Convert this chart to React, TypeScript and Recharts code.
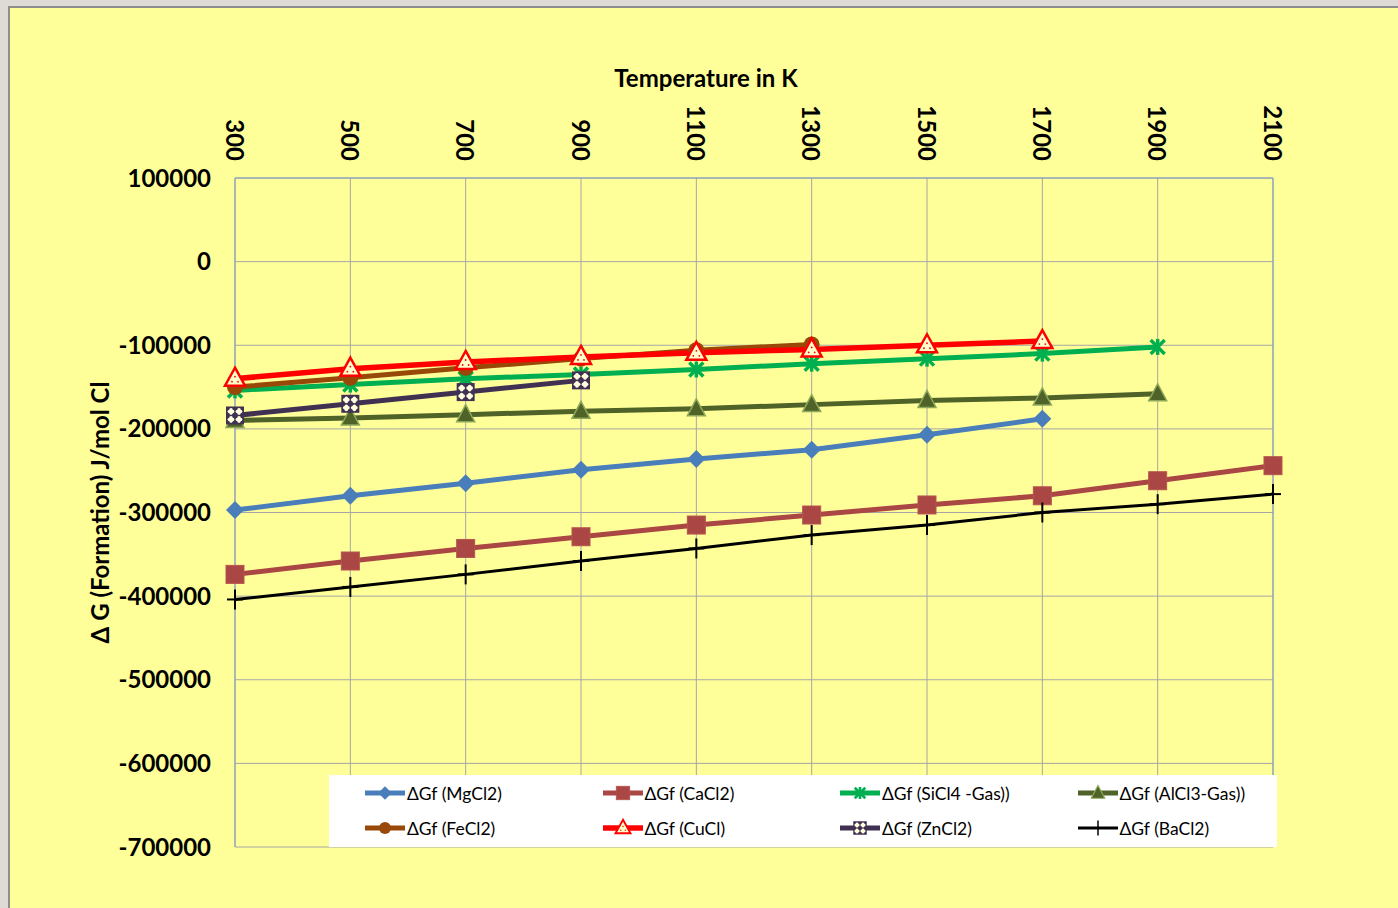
import React from "react";
import {
  LineChart,
  Line,
  XAxis,
  YAxis,
  CartesianGrid,
  Legend,
  ReferenceLine,
} from "recharts";

// temperatures (K) and ΔGf values (J/mol Cl)
const temps = [300, 500, 700, 900, 1100, 1300, 1500, 1700, 1900, 2100];
const mgcl2 = [-297000, -280000, -265000, -249000, -236000, -225000, -207000, -188000];
const cacl2 = [-374000, -358000, -343000, -329000, -315000, -303000, -291000, -280000, -262000, -244000];
const sicl4 = [-154000, -147000, -140000, -135000, -129000, -122000, -116000, -110000, -102000];
const alcl3 = [-190000, -187000, -183000, -179000, -176000, -171000, -166000, -163000, -158000];
const fecl2 = [-150000, -139000, -127000, -116000, -106000, -99000];
const cucl = [-140000, -128000, -120000, -114000, -109000, -105000, -100000, -95000];
const zncl2 = [-184000, -170000, -156000, -142000];
const bacl2 = [-404000, -389000, -374000, -358000, -343000, -327000, -315000, -300000, -290000, -278000];

const yTicks = [100000, 0, -100000, -200000, -300000, -400000, -500000, -600000, -700000];

type MarkerKind = "diamond" | "square" | "star" | "triangle" | "circle" | "redTri" | "zn" | "plus";

const series: { key: string; name: string; values: number[]; color: string; width: number; marker: MarkerKind }[] = [
  { key: "mg", name: "ΔGf (MgCl2)", values: mgcl2, color: "#4A7EBB", width: 5, marker: "diamond" },
  { key: "ca", name: "ΔGf (CaCl2)", values: cacl2, color: "#AA4643", width: 5, marker: "square" },
  { key: "si", name: "ΔGf (SiCl4 -Gas))", values: sicl4, color: "#00B050", width: 5, marker: "star" },
  { key: "al", name: "ΔGf (AlCl3-Gas))", values: alcl3, color: "#4F6228", width: 5, marker: "triangle" },
  { key: "fe", name: "ΔGf (FeCl2)", values: fecl2, color: "#984807", width: 5, marker: "circle" },
  { key: "cu", name: "ΔGf (CuCl)", values: cucl, color: "#FF0000", width: 5.5, marker: "redTri" },
  { key: "zn", name: "ΔGf (ZnCl2)", values: zncl2, color: "#403152", width: 5, marker: "zn" },
  { key: "ba", name: "ΔGf (BaCl2)", values: bacl2, color: "#000000", width: 3, marker: "plus" },
];

const data = temps.map((t, i) => {
  const row: Record<string, number | null> = { T: t };
  series.forEach((s) => {
    row[s.key] = s.values[i] ?? null;
  });
  return row;
});

const FONT = "Lato, 'Open Sans', sans-serif";

function Marker({ kind, cx, cy, color }: { kind: MarkerKind; cx: number; cy: number; color: string }) {
  switch (kind) {
    case "diamond":
      return <path d={`M${cx},${cy - 9} L${cx + 9},${cy} L${cx},${cy + 9} L${cx - 9},${cy} Z`} fill={color} />;
    case "square":
      return <rect x={cx - 9} y={cy - 9} width={18} height={18} fill={color} stroke="#B85450" strokeWidth={1} />;
    case "star":
      return (
        <g stroke={color} strokeWidth={3.5} strokeLinecap="butt">
          <line x1={cx - 7} y1={cy - 7} x2={cx + 7} y2={cy + 7} />
          <line x1={cx - 7} y1={cy + 7} x2={cx + 7} y2={cy - 7} />
          <line x1={cx} y1={cy - 8} x2={cx} y2={cy + 8} />
        </g>
      );
    case "triangle":
      return (
        <path
          d={`M${cx},${cy - 10} L${cx + 9},${cy + 7} L${cx - 9},${cy + 7} Z`}
          fill={color}
          stroke="#8EA85A"
          strokeWidth={1.5}
        />
      );
    case "circle":
      return <circle cx={cx} cy={cy} r={8} fill={color} />;
    case "redTri":
      return (
        <g>
          <path
            d={`M${cx},${cy - 11} L${cx + 10},${cy + 7} L${cx - 10},${cy + 7} Z`}
            fill="#FFFFCC"
            stroke="#FF0000"
            strokeWidth={2.5}
          />
          <circle cx={cx} cy={cy - 2} r={0.9} fill="#FF0000" />
          <circle cx={cx - 3} cy={cy + 3} r={0.9} fill="#FF0000" />
          <circle cx={cx + 3} cy={cy + 3} r={0.9} fill="#FF0000" />
        </g>
      );
    case "zn":
      return (
        <g>
          <rect x={cx - 9} y={cy - 9} width={18} height={18} fill="#403152" />
          {[-4, 4].map((dx) =>
            [-4, 4].map((dy) => (
              <g key={`${dx}${dy}`}>
                <circle cx={cx + dx - 1.6} cy={cy + dy} r={1.8} fill="#FFFFE0" />
                <circle cx={cx + dx + 1.6} cy={cy + dy} r={1.8} fill="#FFFFE0" />
                <circle cx={cx + dx} cy={cy + dy - 1.6} r={1.8} fill="#FFFFE0" />
                <circle cx={cx + dx} cy={cy + dy + 1.6} r={1.8} fill="#FFFFE0" />
              </g>
            ))
          )}
        </g>
      );
    case "plus":
      return (
        <g stroke={color} strokeWidth={2}>
          <line x1={cx} y1={cy - 10} x2={cx} y2={cy + 10} />
          <line x1={cx - 8} y1={cy} x2={cx + 8} y2={cy} />
        </g>
      );
  }
  return null;
}

const makeDot = (kind: MarkerKind, color: string) => (props: any) => {
  const { cx, cy, value, index } = props;
  if (cx == null || cy == null || value == null) return <g key={`d${index}`} />;
  return (
    <g key={`d${index}`}>
      <Marker kind={kind} cx={cx} cy={cy} color={color} />
    </g>
  );
};

const XTick = (props: any) => {
  const { x, payload } = props;
  return (
    <text
      transform={`translate(${x},161) rotate(90)`}
      textAnchor="end"
      dominantBaseline="central"
      fontFamily={FONT}
      fontWeight={700}
      fontSize={24}
      fill="#000"
    >
      {payload.value}
    </text>
  );
};

const LegendBox = () => (
  <div
    style={{
      width: 948,
      height: 72,
      background: "#FFFFFF",
      position: "relative",
      fontFamily: FONT,
      fontSize: 17.5,
      color: "#000",
    }}
  >
    {series.map((s, i) => {
      const col = i % 4;
      const row = Math.floor(i / 4);
      return (
        <div
          key={s.key}
          style={{
            position: "absolute",
            left: 35 + col * 237.5,
            top: 18 + row * 35 - 10,
            height: 20,
            display: "flex",
            alignItems: "center",
            whiteSpace: "nowrap",
          }}
        >
          <svg width={42} height={20}>
            <line x1={1} y1={10} x2={41} y2={10} stroke={s.color} strokeWidth={s.width} />
            <g transform="translate(21,10) scale(0.75) translate(-21,-10)">
              <Marker kind={s.marker} cx={21} cy={10} color={s.color} />
            </g>
          </svg>
          <span style={{ marginLeft: 1 }}>{s.name}</span>
        </div>
      );
    })}
  </div>
);

export default function App() {
  return (
    <div style={{ position: "absolute", left: 0, top: 0, width: 1398, height: 908, background: "#DEDBD6", overflow: "hidden" }}>
      <div
        style={{
          position: "absolute",
          left: 8,
          top: 6,
          width: 1400,
          height: 910,
          background: "#FFFF99",
          borderLeft: "2px solid #8E8E8E",
          borderTop: "2px solid #8E8E8E",
        }}
      />
      <div style={{ position: "absolute", left: 0, top: 0 }}>
        <LineChart width={1398} height={908} data={data} margin={{ top: 60, right: 125, bottom: 61, left: 90 }}>
          <CartesianGrid stroke="#A6A6A6" strokeWidth={1} />
          <XAxis
            dataKey="T"
            type="number"
            orientation="top"
            domain={[300, 2100]}
            ticks={temps}
            height={118}
            tick={<XTick />}
            tickLine={false}
            axisLine={{ stroke: "#7F9DC9", strokeWidth: 1 }}
            label={{
              content: () => (
                <text x={706} y={87} textAnchor="middle" fontFamily={FONT} fontWeight={700} fontSize={24} fill="#000">
                  Temperature in K
                </text>
              ),
            }}
          />
          <YAxis
            type="number"
            domain={[-700000, 100000]}
            ticks={yTicks}
            width={145}
            tickSize={0}
            tickMargin={24}
            tickLine={false}
            axisLine={{ stroke: "#7F9DC9", strokeWidth: 1 }}
            tick={{ fontFamily: FONT, fontWeight: 700, fontSize: 24, fill: "#000" }}
            label={{
              value: "Δ G (Formation) J/mol Cl",
              angle: -90,
              position: "insideLeft",
              offset: 10,
              style: { textAnchor: "middle", fontFamily: FONT, fontWeight: 700, fontSize: 24, fill: "#000" },
            }}
          />
          <ReferenceLine x={2100} stroke="#7F9DC9" />
          <Legend
            layout="horizontal"
            verticalAlign="middle"
            align="center"
            wrapperStyle={{ left: 329, top: 775, width: 948, height: 72 }}
            content={() => <LegendBox />}
          />
          {series.map((s) => (
            <Line
              key={s.key}
              dataKey={s.key}
              name={s.name}
              type="linear"
              stroke={s.color}
              strokeWidth={s.width}
              dot={makeDot(s.marker, s.color)}
              activeDot={false}
              isAnimationActive={false}
            />
          ))}
        </LineChart>
      </div>
    </div>
  );
}
